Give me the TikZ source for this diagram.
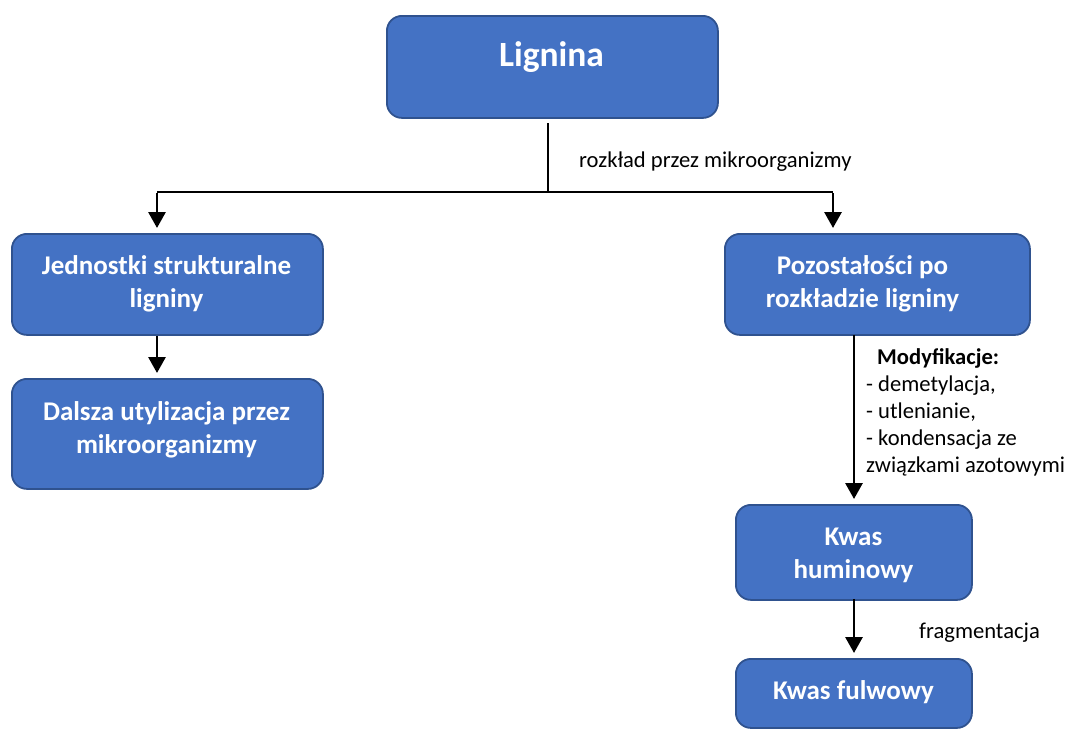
\documentclass[tikz,border=0pt]{standalone}
\usepackage{fontspec}
\setmainfont{Carlito}
\usetikzlibrary{arrows.meta}
\definecolor{boxfill}{HTML}{4472C4}
\definecolor{boxedge}{HTML}{2F528F}
\begin{document}
\begin{tikzpicture}[x=1pt,y=-1pt,
  box/.style={draw=boxedge, line width=1.8pt, fill=boxfill, rounded corners=15pt,
    inner sep=0pt, anchor=north west},
  boxtext/.style={text=white, font=\fontsize{27}{33}\selectfont\bfseries, align=center, inner sep=0pt},
  titletext/.style={text=white, font=\fontsize{35.5}{40}\selectfont\bfseries, inner sep=0pt},
  note/.style={font=\fontsize{22.6}{27.2}\selectfont, inner sep=0pt},
  thinline/.style={line width=1.5pt},
  arr/.style={line width=2.9pt, -{Triangle[width=17pt,length=16pt]}, shorten >=5pt}]
\useasboundingbox (0,0) rectangle (1068,729);

% boxes
\node[box, minimum width=331pt, minimum height=102pt] (lig) at (386,15) {};
\node[box, minimum width=311pt, minimum height=101pt] (jed) at (11,233) {};
\node[box, minimum width=311pt, minimum height=110pt] (dal) at (11,378) {};
\node[box, minimum width=305pt, minimum height=101pt] (poz) at (724,233) {};
\node[box, minimum width=236pt, minimum height=95pt] (khu) at (735,504) {};
\node[box, minimum width=236pt, minimum height=69pt] (kfu) at (735,658) {};

% box captions
\node[titletext] (tlig) at (551.5,57) {Lignina};
\node[boxtext] (tjed) at (166.5,284) {Jednostki strukturalne\\ligniny};
\node[boxtext] (tdal) at (166.5,430) {Dalsza utylizacja przez\\mikroorganizmy};
\node[boxtext] (tpoz) at (862.5,284) {Pozostałości po\\rozkładzie ligniny};
\node[boxtext] (tkhu) at (853.5,555) {Kwas\\huminowy};
\node[boxtext] (tkfu) at (853.5,692) {Kwas fulwowy};

% branching connector below the top box
\coordinate (split) at (548,192);
\coordinate (jedtop) at (157,233);
\coordinate (poztop) at (833,233);
\draw[thinline] (548,123) -- (split);
\draw[thinline] (split -| jedtop) -- (split -| poztop);
\draw[arr] ([yshift=-1pt]split -| jedtop) -- (jedtop);
\draw[arr] ([yshift=-1pt]split -| poztop) -- (poztop);

% remaining arrows
\draw[arr] (jed.south -| jedtop) -- (dal.north -| jedtop);
\coordinate (rcol) at (854,0);
\draw[arr] ([yshift=1pt]poz.south -| rcol) -- (khu.north -| rcol);
\draw[arr] ([yshift=2pt]khu.south -| rcol) -- (kfu.north -| rcol);

% labels
\node[note, anchor=west] (lrozk) at (579,162) {rozkład przez mikroorganizmy};
\node[note, anchor=north west, align=left] (lmod) at (866,348)
  {\hspace*{11pt}\textbf{Modyfikacje:}\\- demetylacja,\\- utlenianie,\\- kondensacja ze\\związkami azotowymi};
\node[note, anchor=west] (lfrag) at (919,633) {fragmentacja};
\end{tikzpicture}
\end{document}
